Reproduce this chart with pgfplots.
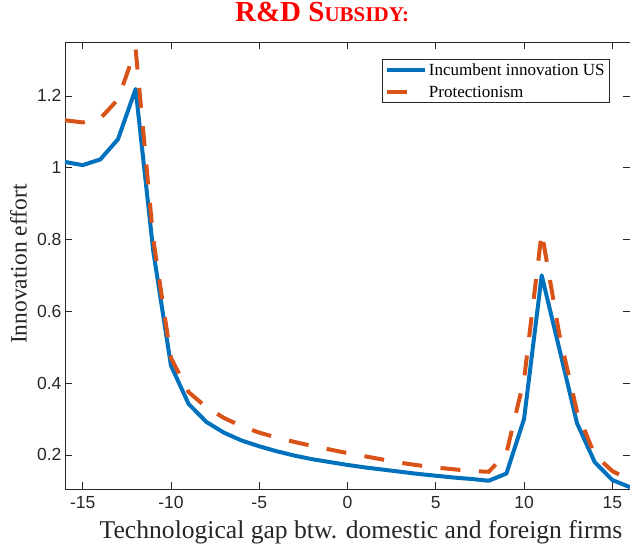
\documentclass[border=0pt]{standalone}
\usepackage{pgfplots}
\pgfplotsset{compat=1.18}
\usepackage{pgfplotstable}
\usepackage{fontspec}
\setmainfont{Liberation Serif}
\newfontfamily\ticfont{Liberation Sans}
\definecolor{mblue}{rgb}{0,0.447,0.741}
\definecolor{morange}{rgb}{0.85,0.325,0.098}
\definecolor{axgray}{rgb}{0.15,0.15,0.15}

\pgfplotstableread{
x y
-16 1.016
-15 1.007
-14 1.023
-13 1.079
-12 1.219
-11 0.767
-10 0.449
-9 0.342
-8 0.292
-7 0.262
-6 0.240
-5 0.224
-4 0.210
-3 0.198
-2 0.188
-1 0.180
0 0.172
1 0.165
2 0.159
3 0.153
4 0.147
5 0.142
6 0.137
7 0.133
8 0.128
9 0.148
10 0.300
11 0.700
12 0.495
13 0.288
14 0.180
15 0.130
16 0.110
}\incumbent

\pgfplotstableread{
x y
-16 1.132
-15 1.126
-14 1.137
-13 1.190
-12 1.330
-11 0.800
-10 0.470
-9 0.375
-8 0.333
-7 0.303
-6 0.280
-5 0.262
-4 0.248
-3 0.236
-2 0.225
-1 0.215
0 0.205
1 0.196
2 0.187
3 0.178
4 0.171
5 0.165
6 0.160
7 0.155
8 0.153
9 0.205
10 0.410
11 0.820
12 0.535
13 0.320
14 0.200
15 0.155
16 0.130
}\protection

\begin{document}
\begin{tikzpicture}[x=1pt,y=1pt]
\path[use as bounding box] (-65,-58) rectangle (565,489);
\begin{axis}[
  at={(0,0)}, anchor=south west,
  scale only axis, width=565pt, height=447pt,
  xmin=-16, xmax=16, ymin=0.105, ymax=1.35,
  xtick={-15,-10,-5,0,5,10,15},
  ytick={0.2,0.4,0.6,0.8,1,1.2},
  tick align=inside, major tick length=7pt,
  axis line style={axgray, line width=0.6pt},
  tick style={axgray, line width=0.6pt},
  /pgf/number format/assume math mode=true,
  ticklabel style={font=\ticfont\fontsize{17.5}{19}\selectfont, text=axgray},
  yticklabel style={xshift=0pt},
  xticklabel style={yshift=-4pt},
  xlabel={Technological gap btw. domestic and foreign firms},
  xlabel style={at={(axis description cs:0.524,0)}, anchor=center, yshift=-43pt,
    font=\fontsize{25.6}{28}\selectfont, text=axgray},
  ylabel={Innovation effort},
  ylabel style={at={(axis description cs:-0.0823,0.503)}, anchor=center,
    font=\fontsize{23.5}{26}\selectfont, text=axgray},
  title={\bfseries\fontsize{29}{32}\selectfont R\&D S{\fontsize{21}{24}\selectfont UBSIDY:}},
  title style={at={(axis description cs:0.455,1.053)}, anchor=center, text=red},
  legend style={at={(axis description cs:0.5605,0.9613)}, anchor=north west,
    draw=axgray, line width=0.6pt, font=\fontsize{17}{19}\selectfont,
    inner xsep=3pt, inner ysep=2pt, row sep=5pt,
    cells={anchor=west}},
  legend image code/.code={\draw[#1] (0pt,0pt) -- (38pt,0pt);},
  legend cell align=left,
  clip=true,
]
\addplot[mblue, line width=4pt, line join=round] table[x=x,y=y]{\incumbent};
\addlegendentry{Incumbent innovation US}
\addplot[morange, line width=4pt, line cap=butt, dash pattern=on 20pt off 18.5pt] table[x=x,y=y]{\protection};
\addlegendentry{Protectionism}
\end{axis}
\end{tikzpicture}
\end{document}
